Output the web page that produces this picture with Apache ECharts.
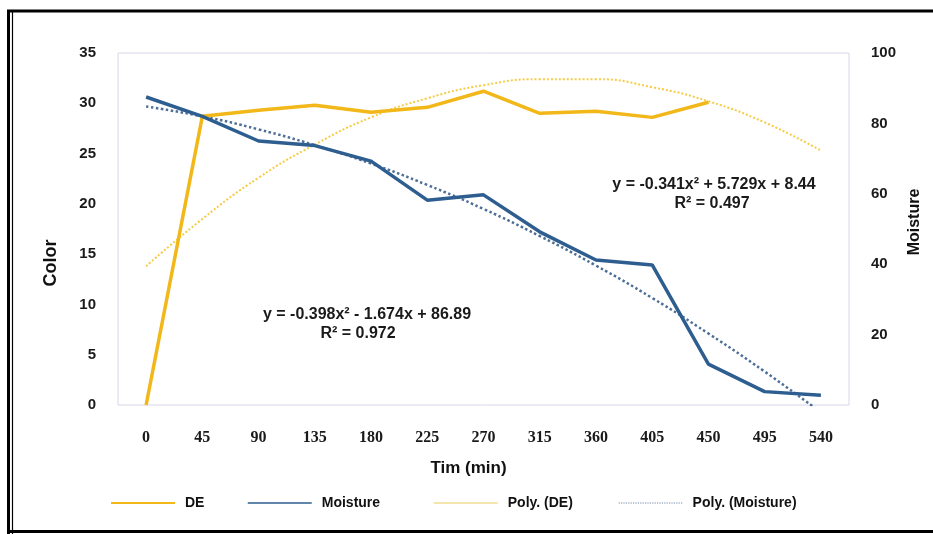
<!DOCTYPE html>
<html>
<head>
<meta charset="utf-8">
<script src="https://cdn.jsdelivr.net/npm/echarts@6/dist/echarts.min.js"></script>
<style>
  html, body { margin: 0; padding: 0; background: #fff; }
  #chart { width: 933px; height: 534px; }
</style>
</head>
<body>
<div id="chart"></div>
<script>
// Drying time in minutes (category axis)
var timeMin = ['0', '45', '90', '135', '180', '225', '270', '315', '360', '405', '450', '495', '540'];

// Colour difference (left axis); no readings after 450 min
var deValues = [0, 28.7, 29.3, 29.8, 29.1, 29.6, 31.2, 29.0, 29.2, 28.6, 30.1, null, null];

// Moisture content (right axis)
var moistureValues = [87.5, 82, 75, 73.7, 69.3, 58.2, 59.7, 49.2, 41.2, 39.8, 11.6, 3.8, 2.8];

// Second-order polynomial trend of DE
var polyDE = [13.8, 18.5, 22.6, 25.9, 28.6, 30.5, 31.8, 32.4, 32.4, 31.6, 30.2, 28.1, 25.3];

// Second-order polynomial trend of moisture
var polyMoisture = [84.8, 82.0, 78.3, 73.8, 68.6, 62.5, 55.7, 48.0, 39.6, 30.4, 20.3, 9.5, -2.1];

// Axis ranges and tick steps
var colorAxis = { min: 0, max: 35, step: 5 };
var moistureAxis = { min: 0, max: 100, step: 20 };

// Fitted equations printed on the plot
var eqDE = ['y = -0.341x\u00B2 + 5.729x + 8.44', 'R\u00B2 = 0.497'];
var eqMoisture = ['y = -0.398x\u00B2 - 1.674x + 86.89', 'R\u00B2 = 0.972'];

var C_DE = '#F2B718';
var C_MO = '#2D5E8F';
var C_PDE = '#F6CB45';
var C_PMO = '#4D6E96';

var sans = 'Liberation Sans, Arial, sans-serif';
var serif = 'Liberation Serif, Times New Roman, serif';

var chart = echarts.init(document.getElementById('chart'), null, { renderer: 'canvas' });

// one legend block per entry so each sits at its own x position
function legendAt(name, left, lineStyle) {
  return {
    data: [{ name: name, lineStyle: lineStyle, itemStyle: { opacity: 0 } }],
    left: left,
    top: 496,
    padding: 0,
    itemWidth: 64,
    itemHeight: 14,
    itemGap: 0,
    selectedMode: false,
    textStyle: { fontFamily: sans, fontWeight: 'bold', fontSize: 14, color: '#111', padding: [0, 0, 0, 5] }
  };
}

function eqText(x, y, text) {
  return {
    type: 'text', x: x, y: y, z: 10,
    style: { text: text, font: 'bold 16px ' + sans, fill: '#1a1a1a', align: 'center', verticalAlign: 'middle' }
  };
}

chart.setOption({
  animation: false,
  backgroundColor: '#ffffff',
  grid: {
    left: 118, right: 84, top: 53, bottom: 129,
    show: true, borderColor: '#d9d4e6', borderWidth: 1
  },
  legend: [
    legendAt('DE', 110, { width: 2, color: C_DE }),
    legendAt('Moisture', 247, { width: 1.5, color: C_MO }),
    legendAt('Poly. (DE)', 433, { width: 1.5, color: '#f1dc92', type: 'solid' }),
    legendAt('Poly. (Moisture)', 618, { width: 1.2, color: '#7388a6', type: 'dotted' })
  ],
  xAxis: {
    type: 'category',
    data: timeMin,
    boundaryGap: true,
    axisLine: { show: false },
    axisTick: { show: false },
    axisLabel: { fontFamily: serif, fontWeight: 'bold', fontSize: 16, color: '#1a1a1a', margin: 25 },
    name: 'Tim (min)',
    nameLocation: 'middle',
    nameGap: 55,
    nameTextStyle: { fontFamily: sans, fontWeight: 'bold', fontSize: 17, color: '#111', padding: [0, 30, 0, 0] }
  },
  yAxis: [
    {
      type: 'value',
      min: colorAxis.min, max: colorAxis.max, interval: colorAxis.step,
      splitLine: { show: false },
      axisLine: { show: false },
      axisTick: { show: false },
      axisLabel: { fontFamily: sans, fontWeight: 'bold', fontSize: 15, color: '#1a1a1a', margin: 22 },
      name: 'Color',
      nameLocation: 'middle',
      nameRotate: 90,
      nameGap: 58,
      nameTextStyle: { fontFamily: sans, fontWeight: 'bold', fontSize: 18, color: '#111', padding: [0, 68, 0, 0] }
    },
    {
      type: 'value',
      position: 'right',
      min: moistureAxis.min, max: moistureAxis.max, interval: moistureAxis.step,
      splitLine: { show: false },
      axisLine: { show: false },
      axisTick: { show: false },
      axisLabel: { fontFamily: sans, fontWeight: 'bold', fontSize: 15, color: '#1a1a1a', margin: 22 },
      name: 'Moisture',
      nameLocation: 'middle',
      nameRotate: 90,
      nameGap: 50,
      nameTextStyle: { fontFamily: sans, fontWeight: 'bold', fontSize: 16, color: '#111', padding: [0, 0, 0, 14] }
    }
  ],
  series: [
    {
      name: 'Poly. (DE)', type: 'line', yAxisIndex: 0, data: polyDE,
      smooth: true, symbol: 'none', z: 1,
      lineStyle: { color: C_PDE, width: 2, type: 'dotted' }, itemStyle: { color: C_PDE }
    },
    {
      name: 'Poly. (Moisture)', type: 'line', yAxisIndex: 1, data: polyMoisture,
      smooth: true, symbol: 'none', z: 1,
      lineStyle: { color: C_PMO, width: 2.5, type: 'dotted' }, itemStyle: { color: C_PMO }
    },
    {
      name: 'DE', type: 'line', yAxisIndex: 0, data: deValues,
      symbol: 'none', connectNulls: false, z: 3,
      lineStyle: { color: C_DE, width: 3.5 }, itemStyle: { color: C_DE }
    },
    {
      name: 'Moisture', type: 'line', yAxisIndex: 1, data: moistureValues,
      symbol: 'none', z: 3,
      lineStyle: { color: C_MO, width: 3.5 }, itemStyle: { color: C_MO }
    }
  ],
  graphic: [
    // double frame round the figure
    { type: 'line', shape: { x1: 8.5, y1: 11, x2: 8.5, y2: 534 }, style: { stroke: '#000', lineWidth: 3 } },
    { type: 'line', shape: { x1: 12.5, y1: 11, x2: 12.5, y2: 534 }, style: { stroke: '#000', lineWidth: 1.2 } },
    { type: 'line', shape: { x1: 7, y1: 11, x2: 933, y2: 11 }, style: { stroke: '#000', lineWidth: 3 } },
    { type: 'line', shape: { x1: 7, y1: 531.5, x2: 933, y2: 531.5 }, style: { stroke: '#000', lineWidth: 3 } },
    // fitted equations
    eqText(714, 185, eqDE[0]),
    eqText(712, 204, eqDE[1]),
    eqText(367, 315, eqMoisture[0]),
    eqText(358, 334, eqMoisture[1])
  ]
});
</script>
</body>
</html>
